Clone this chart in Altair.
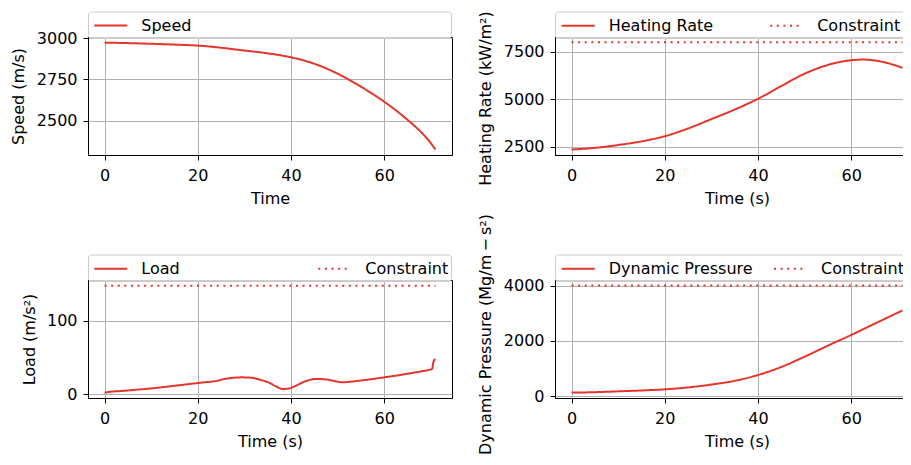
import altair as alt
import pandas as pd

FONT = "DejaVu Sans"
RED = "#e5352b"

# ---- data ----
t_speed = [0, 5, 10, 15, 20, 25, 30, 35, 40, 45, 50, 55, 60, 63, 65, 68, 69.5, 71]
speed = [2973, 2970, 2966, 2961, 2955, 2942, 2925, 2908, 2884, 2845, 2785, 2706, 2615, 2552, 2505, 2428, 2382, 2325]

t_heat = [0, 5, 10, 15, 20, 25, 30, 35, 40, 45, 50, 55, 60, 62.5, 65, 68, 71]
heat = [2363, 2450, 2600, 2790, 3063, 3470, 3960, 4465, 5030, 5700, 6350, 6810, 7058, 7092, 7050, 6895, 6660]
heat_limit = 8000

t_load = [0, 1.4, 3, 6, 10, 14, 18, 21, 24.3, 25.5, 27, 29.5, 31.5, 33.5, 35.3, 37, 38.3, 39.5, 41, 43,
          45.3, 47.5, 49.5, 51, 53, 56, 60, 63, 66, 68, 70.3, 70.5, 70.7, 71]
load = [2.2, 3.6, 4.2, 5.8, 8, 10.8, 13.8, 16, 18.5, 20.5, 22, 23, 22.5, 19.5, 15.8, 10, 7.3, 7.8, 11.5, 17.5,
        20.8, 20.2, 17.8, 16.3, 17.3, 19.5, 23, 25.8, 29, 31.2, 34.5, 42, 46.3, 47.5]
load_limit = 147.15

t_q = [0, 5, 10, 15, 20, 25, 30, 35, 40, 45, 50, 55, 60, 65, 68, 71]
q = [134, 150, 180, 212, 253, 322, 425, 560, 770, 1060, 1430, 1830, 2215, 2620, 2860, 3100]
q_limit = 4000

t_end = 71
x_ticks = [0, 20, 40, 60]


def make_df(t, v, name, limit=None):
    rows = [{"t": a, "v": b, "s": name} for a, b in zip(t, v)]
    if limit is not None:
        rows += [{"t": 0, "v": limit, "s": "Constraint"},
                 {"t": t_end, "v": limit, "s": "Constraint"}]
    return pd.DataFrame(rows)


W, H = 364, 118


def panel(df, names, ydom, yticks, xtitle, ytitle, title_x, title_y, legend_x, col_pad):
    dashes = [[1, 0], [2, 4.6]][: len(names)]
    leg = alt.Legend(orient="none", legendX=legend_x, legendY=-29, direction="horizontal",
                     title=None, symbolType="stroke", symbolSize=1089, symbolStrokeWidth=2,
                     labelOffset=13, columnPadding=col_pad, padding=0,
                     labelFont=FONT, labelFontSize=16, labelColor="black")
    lines = alt.Chart(df).mark_line(strokeWidth=2, interpolate="monotone").encode(
        x=alt.X("t:Q", scale=alt.Scale(domain=[-3.55, 74.55], nice=False, zero=False),
                axis=alt.Axis(values=x_ticks, format="d", title=xtitle, titleX=W / 2, titleY=48,
                              titleBaseline="alphabetic", labelFlush=False, labelOverlap=False)),
        y=alt.Y("v:Q", scale=alt.Scale(domain=ydom, nice=False, zero=False),
                axis=alt.Axis(values=yticks, format="d", title=ytitle, titleX=title_x, titleY=title_y,
                              titleAngle=270, titleBaseline="alphabetic", titleAlign="center",
                              labelOverlap=False)),
        color=alt.Color("s:N", scale=alt.Scale(domain=names, range=[RED] * len(names)), legend=leg),
        strokeDash=alt.StrokeDash("s:N", scale=alt.Scale(domain=names, range=dashes), legend=leg),
    )
    frame = alt.Chart(alt.Data(values=[{"k": 1}])).mark_rect(
        fill="white", fillOpacity=0.8, stroke="#cccccc", strokeWidth=1, cornerRadius=3
    ).encode(x=alt.value(0.5), x2=alt.value(W - 0.5), y=alt.value(-25), y2=alt.value(1.5))
    return alt.layer(lines, frame).properties(
        width=W, height=H,
        view=alt.ViewBackground(stroke="black", strokeWidth=1),
    )


p_speed = panel(make_df(t_speed, speed, "Speed"), ["Speed"], [2292, 3007],
                [2500, 2750, 3000], "Time", "Speed (m/s)", -65, 59, 5.3, 10)
p_heat = panel(make_df(t_heat, heat, "Heating Rate", heat_limit), ["Heating Rate", "Constraint"],
               [2075, 8280], [2500, 5000, 7500], "Time (s)",
               "Heating Rate (kW/m²)", -65, 61, 5.7, 52.5)
p_load = panel(make_df(t_load, load, "Load", load_limit), ["Load", "Constraint"],
               [-5, 155], [0, 100], "Time (s)", "Load (m/s²)", -53.5, 59, 5.3, 134)
p_q = panel(make_df(t_q, q, "Dynamic Pressure", q_limit), ["Dynamic Pressure", "Constraint"],
            [-60, 4200], [0, 2000, 4000], "Time (s)",
            "Dynamic Pressure (Mg/m\u2009\u2212\u2009s²)", -65, 54, 5.7, 17.3)

chart = alt.concat(
    p_speed, p_heat, p_load, p_q, columns=2, spacing={"row": 125, "column": 103}, bounds="flush"
).resolve_scale(
    x="independent", y="independent", color="independent", strokeDash="independent"
).resolve_legend(
    color="independent", strokeDash="independent"
).properties(
    autosize=alt.AutoSizeParams(type="none"),
    padding={"left": 80, "top": 29, "right": 815, "bottom": 420},
).configure_axis(
    labelFont=FONT, labelFontSize=16, labelColor="black",
    titleFont=FONT, titleFontSize=16, titleFontWeight="normal", titleColor="black",
    domainColor="black", domainWidth=1, tickColor="black", tickSize=5, tickWidth=1,
    gridColor="#b0b0b0", gridWidth=1, labelPadding=6,
).configure_axisX(labelPadding=7)

chart.save("out.html", embed_options={"renderer": "svg", "actions": False})
